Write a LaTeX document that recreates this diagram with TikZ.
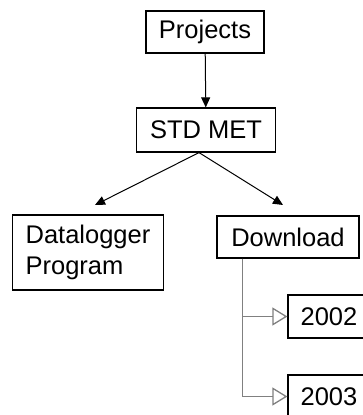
\documentclass[tikz,border=0pt]{standalone}
\usepackage{fontspec}
\setmainfont{Liberation Sans}
\usetikzlibrary{arrows.meta, positioning, calc}

\begin{document}
\begin{tikzpicture}[
    x=1pt, y=-1pt,
    box/.style={draw, line width=1.2pt, inner sep=0pt, font=\fontsize{25.5}{31}\selectfont, align=left},
    arr/.style={-{Triangle[length=10pt, width=9pt]}, line width=1pt},
    branch/.style={-{Triangle[open, length=15pt, width=18pt]}, gray, line width=1.3pt},
]
    \clip (0,0) rectangle (363,415);
    \node[box, minimum width=118pt, minimum height=42pt] (projects) at (205,32) {Projects};
    \node[box, minimum width=139pt, minimum height=44pt] (stdmet) at (206,130) {STD MET};
    \node[box, minimum width=151pt, minimum height=75pt] (datalogger) at (88,252.5) {Datalogger\\Program};
    \node[box, minimum width=142pt, minimum height=42pt] (download) at (288,237) {Download};
    \node[box, minimum width=82pt, minimum height=43pt] (y2002) at (329,316.5) {2002};
    \node[box, minimum width=82pt, minimum height=43pt] (y2003) at (329,396.5) {2003};

    % free ends of the two lower arrows
    \coordinate (dltip) at (95,205);
    \coordinate (dwtip) at (283,205);
    \coordinate (trunk) at ($(download.south west)+(26,0)$);

    \draw[arr] (projects) -- (stdmet);
    \draw[arr] ($(stdmet.south)+(-7,0)$) -- (dltip);
    \draw[arr] ($(stdmet.south)+(-7,0)$) -- (dwtip);

    \draw[branch] (trunk) |- (y2002.west);
    \draw[branch] (trunk) |- (y2003.west);
\end{tikzpicture}
\end{document}
